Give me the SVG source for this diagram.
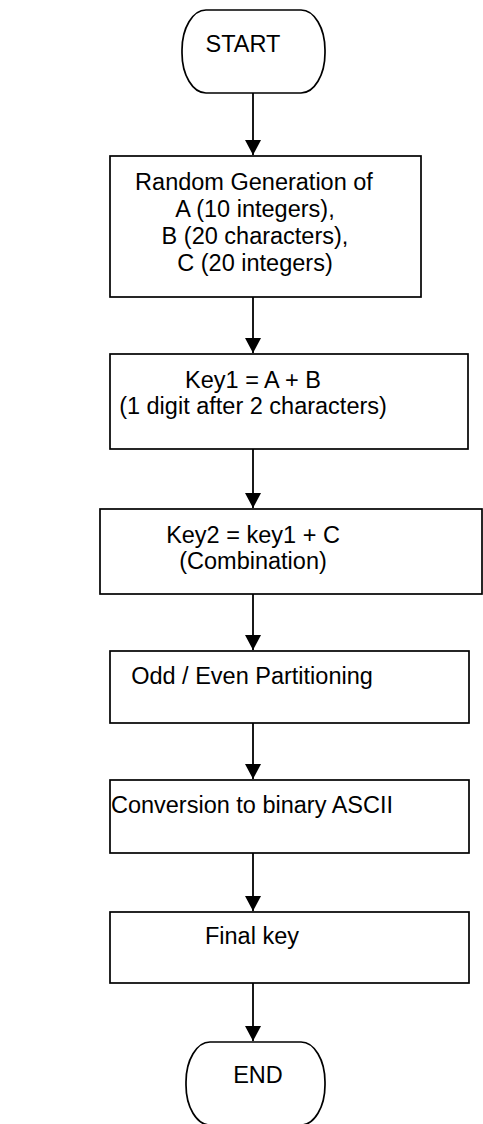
<svg xmlns="http://www.w3.org/2000/svg" width="483" height="1124" viewBox="0 0 483 1124">
<defs>
<style>
.shape{fill:#fff;stroke:#000;stroke-width:1.7}
.t{font-family:"Liberation Sans",Arial,sans-serif;font-size:23.5px;fill:#000;text-anchor:middle}
.conn{stroke:#000;stroke-width:1.8;fill:none;marker-end:url(#ah)}
</style>
<marker id="ah" markerWidth="15" markerHeight="16" refX="15" refY="8" orient="auto" markerUnits="userSpaceOnUse" viewBox="0 0 15 16">
<path d="M0,0 L15,8 L0,16 Z" fill="#000"/>
</marker>
</defs>
<rect width="483" height="1124" fill="#fff"/>
<g id="start">
<rect class="shape" x="182" y="10" width="143" height="83" rx="24" ry="40"/>
<text class="t" x="243" y="52">START</text>
</g>
<g id="gen">
<rect class="shape" x="110" y="156" width="311" height="141"/>
<text class="t" x="254" y="190">Random Generation of</text>
<text class="t" x="255" y="217">A (10 integers),</text>
<text class="t" x="255" y="244">B (20 characters),</text>
<text class="t" x="255" y="271">C (20 integers)</text>
</g>
<g id="key1">
<rect class="shape" x="110" y="354" width="358" height="95"/>
<text class="t" x="253" y="388">Key1 = A + B</text>
<text class="t" x="253" y="414">(1 digit after 2 characters)</text>
</g>
<g id="key2">
<rect class="shape" x="100" y="509" width="382" height="85"/>
<text class="t" x="253" y="543">Key2 = key1 + C</text>
<text class="t" x="253" y="569">(Combination)</text>
</g>
<g id="oddeven">
<rect class="shape" x="110" y="651" width="359" height="72"/>
<text class="t" x="252" y="684">Odd / Even Partitioning</text>
</g>
<g id="binary">
<rect class="shape" x="110" y="780" width="359" height="73"/>
<text class="t" x="252" y="813">Conversion to binary ASCII</text>
</g>
<g id="final">
<rect class="shape" x="110" y="912" width="359" height="71"/>
<text class="t" x="252" y="944">Final key</text>
</g>
<g id="end">
<rect class="shape" x="186" y="1042" width="139" height="83" rx="24" ry="40"/>
<text class="t" x="258" y="1083">END</text>
</g>
<g id="connectors">
<line class="conn" x1="253" y1="93" x2="253" y2="155"/>
<line class="conn" x1="253" y1="297" x2="253" y2="353"/>
<line class="conn" x1="253" y1="449" x2="253" y2="508"/>
<line class="conn" x1="253" y1="594" x2="253" y2="650"/>
<line class="conn" x1="253" y1="723" x2="253" y2="779"/>
<line class="conn" x1="253" y1="853" x2="253" y2="911"/>
<line class="conn" x1="253" y1="983" x2="253" y2="1041"/>
</g>
</svg>
